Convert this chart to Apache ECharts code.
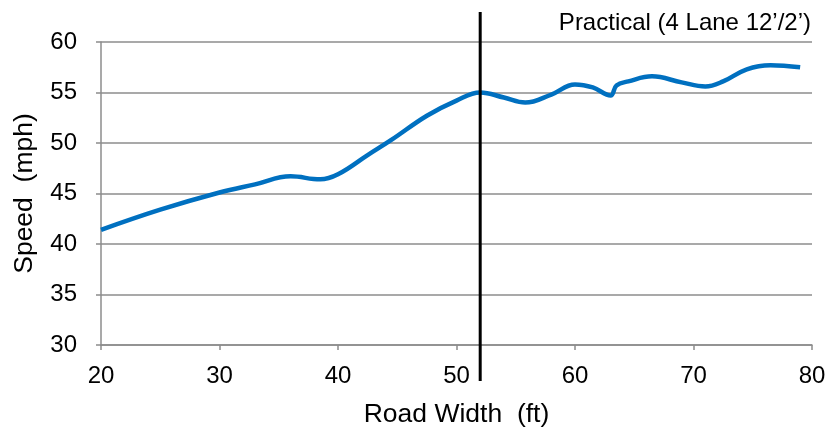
<!DOCTYPE html>
<html><head><meta charset="utf-8">
<script src="https://cdn.jsdelivr.net/npm/echarts@6/dist/echarts.min.js"></script>
<style>html,body{margin:0;padding:0;background:#fff}#c{width:830px;height:433px}</style>
</head><body><div id="c"></div>
<script>
const roadWidth = [20, 25, 30, 33, 36, 38.5, 40, 42.5, 44.5, 47.5, 50, 52, 54, 55.8, 58, 60, 61.5, 63, 63.5, 64.5, 66.5, 69, 71, 72.5, 74.5, 76.5, 79];
const speed     = [41.4, 43.4, 45.1, 45.9, 46.7, 46.4, 46.9, 48.8, 50.3, 52.7, 54.2, 55.0, 54.5, 54.0, 54.8, 55.8, 55.5, 54.7, 55.7, 56.1, 56.6, 56.0, 55.6, 56.1, 57.3, 57.7, 57.5];
const practicalWidth = [52];
const practicalLabel = 'Practical (4 Lane 12\u2019/2\u2019)';
const xTicks = [20, 30, 40, 50, 60, 70, 80];
const yTicks = [30, 35, 40, 45, 50, 55, 60];

const chart = echarts.init(document.getElementById('c'));
const font = 'Liberation Sans, Arial, sans-serif';
chart.setOption({
  animation: false,
  title: { text: practicalLabel, right: 14, top: 6, textStyle: { fontFamily: font, fontSize: 24, fontWeight: 'normal', color: '#000' } },
  grid: { left: 101, right: 18, top: 42, bottom: 87 },
  xAxis: {
    type: 'value', min: xTicks[0], max: xTicks[xTicks.length - 1], interval: 10,
    name: 'Road Width  (ft)', nameLocation: 'middle', nameGap: 56,
    nameTextStyle: { fontFamily: font, fontSize: 26.5, color: '#000' },
    axisLine: { lineStyle: { color: '#8c8c8c', width: 1.5 } },
    axisTick: { show: true, length: 5, lineStyle: { color: '#8c8c8c', width: 1.5 } },
    axisLabel: { fontFamily: font, fontSize: 24, color: '#000', margin: 19 },
    splitLine: { show: false }
  },
  yAxis: {
    type: 'value', min: yTicks[0], max: yTicks[yTicks.length - 1], interval: 5,
    name: 'Speed  (mph)', nameLocation: 'middle', nameGap: 63, nameRotate: 90,
    nameTextStyle: { fontFamily: font, fontSize: 26.5, color: '#000' },
    axisLine: { show: true, lineStyle: { color: '#8c8c8c', width: 1.5 } },
    axisTick: { show: true, length: 5, lineStyle: { color: '#8c8c8c', width: 1.5 } },
    axisLabel: { fontFamily: font, fontSize: 24, color: '#000', margin: 24 },
    splitLine: { lineStyle: { color: '#8c8c8c', width: 1.5 } }
  },
  series: [
    {
      type: 'line', data: roadWidth.map((x, i) => [x, speed[i]]),
      smooth: 0.4, showSymbol: false, symbol: 'none',
      lineStyle: { color: '#0070C0', width: 4.5 }, z: 3
    },
    {
      type: 'custom', data: practicalWidth.map(x => [x]), clip: false, z: 4,
      renderItem: function (params, api) {
        const top = api.coord([api.value(0), yTicks[yTicks.length - 1]]);
        const bot = api.coord([api.value(0), yTicks[0]]);
        return { type: 'line', shape: { x1: top[0], y1: top[1] - 30, x2: bot[0], y2: bot[1] + 36 },
                 style: { stroke: '#000', lineWidth: 3 } };
      }
    }
  ]
});
</script></body></html>
